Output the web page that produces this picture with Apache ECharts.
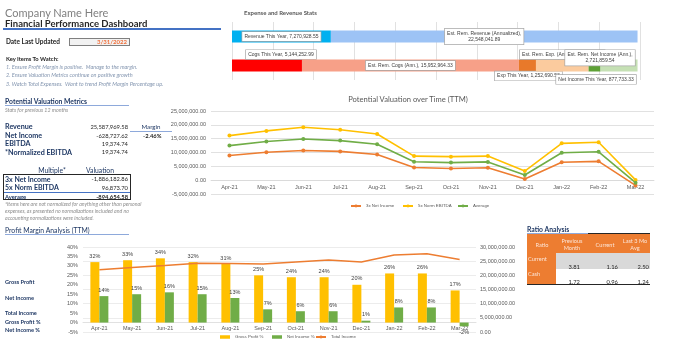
<!DOCTYPE html>
<html>
<head>
<meta charset="utf-8">
<script src="https://cdn.jsdelivr.net/npm/echarts@6/dist/echarts.min.js"></script>
<style>
  html, body { margin: 0; padding: 0; background: #fff; }
  #page { position: relative; width: 680px; height: 346px; overflow: hidden; font-family: "Lato", "Open Sans", sans-serif; }
  #chart { position: absolute; left: 0; top: 0; width: 680px; height: 346px; }
  .t { position: absolute; white-space: pre; line-height: 1; }
  .ln { position: absolute; }
</style>
</head>
<body>
<div id="page">
  <div id="chart"></div>
  <div id="overlay"></div>
</div>
<script>
// ---------- data ----------
const months = ['Apr-21', 'May-21', 'Jun-21', 'Jul-21', 'Aug-21', 'Sep-21', 'Oct-21', 'Nov-21', 'Dec-21', 'Jan-22', 'Feb-22', 'Mar-22'];

// Potential valuation over time (TTM)
const netIncome3x   = [8900000, 10100000, 10700000, 10400000, 9300000, 4600000, 4200000, 4500000, 400000, 6500000, 6800000, -1886182.86];
const normEbitda5x  = [16100000, 17800000, 19100000, 18200000, 16700000, 8700000, 8500000, 8700000, 3300000, 13300000, 13700000, 96873.70];
const valuationAvg  = [12500000, 13950000, 14900000, 14300000, 13000000, 6650000, 6350000, 6600000, 1850000, 9900000, 10250000, -894654.58];

// Profit margin analysis (TTM)
const grossProfitPct = [32, 33, 34, 32, 31, 25, 24, 24, 20, 26, 26, 17];
const netIncomePct   = [14, 15, 16, 15, 13, 7, 6, 6, 1, 8, 8, -2];
const totalIncome    = [22000000, 22800000, 23500000, 24300000, 24200000, 24000000, 24700000, 25400000, 24700000, 27200000, 27600000, 25587969.58];

// Expense and revenue stats
const expRows   = ['Revenue', 'Spend'];
const expNames  = ['Revenue This Year', 'Est. Rem. Revenue (Annualized)', 'Cogs This Year', 'Est. Rem. Cogs (Ann.)',
                   'Exp This Year', 'Est. Rem. Exp. (Ann.)', 'Net Income This Year', 'Est. Rem. Net Income (Ann.)'];
const expValues = [7270928.55, 22548041.89, 5144252.99, 15952964.33, 1252690.53, 3869469.72, 877733.33, 2721859.54];
const expRowOf  = [0, 0, 1, 1, 1, 1, 1, 1];

// Valuation metrics panel
const metricLabels = ['Revenue', 'Net Income', 'EBITDA', '*Normalized EBITDA'];
const metricValues = ['25,587,969.58', '-628,727.62', '19,374.74', '19,374.74'];
const multipleLabels = ['3x Net Income', '5x Norm EBITDA', 'Average'];
const multipleValues = ['-1,886,182.86', '96,873.70', '-894,654.58'];

// Ratio analysis
const ratioHeaders = ['Ratio', 'Previous\nMonth', 'Current', 'Last 3 Mo\nAvg'];
const ratioRows    = ['Current', 'Cash'];
const ratioPrev    = ['3.81', '1.72'];
const ratioCurr    = ['1.16', '0.96'];
const ratio3Mo     = ['2.50', '1.24'];

// ---------- helpers ----------
const fmt2 = v => Number(v).toLocaleString('en-US', { minimumFractionDigits: 2, maximumFractionDigits: 2 });
const overlay = document.getElementById('overlay');
const NAVY = '#1F3864';

function text(str, x, y, size, style = {}, align = 'left') {
  const d = document.createElement('div');
  d.className = 't';
  d.textContent = str;
  d.style.fontSize = size + 'px';
  d.style.top = (y - size / 2) + 'px';
  if (align === 'right') d.style.right = (680 - x) + 'px';
  else if (align === 'center') { d.style.left = x + 'px'; d.style.transform = 'translateX(-50%)'; d.style.textAlign = 'center'; }
  else d.style.left = x + 'px';
  Object.assign(d.style, style);
  overlay.appendChild(d);
  return d;
}
function box(x, y, w, h, style) {
  const d = document.createElement('div');
  d.className = 'ln';
  Object.assign(d.style, { left: x + 'px', top: y + 'px', width: w + 'px', height: h + 'px' }, style);
  overlay.appendChild(d);
  return d;
}

// ---------- header ----------
text('Company Name Here', 5, 12, 11, { color: '#808080' });
text('Financial Performance Dashboard', 5, 23.5, 9.5, { color: '#262626', fontWeight: 'bold' });
box(3, 28, 218, 1.5, { background: '#4472C4' });

text('Date Last Updated', 6, 42, 6.5, { color: '#262626', fontWeight: 'bold' });
box(69, 37.5, 61, 8.5, { background: '#F2F2F2', border: '1px solid #7F7F7F', boxSizing: 'border-box' });
text('3/31/2022', 127, 42, 6, { color: '#F0703C', fontWeight: 'bold' }, 'right');

text('Key Items To Watch:', 6, 58.5, 5.8, { color: '#262626', fontWeight: 'bold' });
const keyItems = ['1. Ensure Profit Margin is positive.  Manage to the margin.',
                  '2. Ensure Valuation Metrics continue on positive growth',
                  '3. Watch Total Expenses.  Want to trend Profit Margin Percentage up.'];
keyItems.forEach((s, i) => text(s, 6, 67.5 + i * 8.7, 5.5, { color: '#8496B0', fontStyle: 'italic' }));

// ---------- valuation metrics ----------
text('Potential Valuation Metrics', 5, 101, 6.8, { color: NAVY, fontWeight: 'bold' });
box(5, 105, 124, 1, { background: '#8EA9DB' });
text('Stats for previous 12 months', 5, 110.5, 5.3, { color: '#8C8C8C', fontStyle: 'italic' });

const metricY = [127, 135.7, 144, 152.3];
metricLabels.forEach((s, i) => {
  text(s, 5, metricY[i], 7.2, { color: NAVY, fontWeight: 'bold' });
  text(metricValues[i], 128, metricY[i], 5.8, { color: '#262626' }, 'right');
});
text('Margin', 151, 127, 6.2, { color: NAVY }, 'center');
box(130, 131, 42, 1, { background: '#8EA9DB' });
text('-2.46%', 143, 136, 5.8, { color: '#262626', fontWeight: 'bold' });

text('Multiple*', 52, 170, 6.8, { color: NAVY }, 'center');
text('Valuation', 100, 170, 6.8, { color: NAVY }, 'center');
box(3, 174, 128, 25.5, { border: '1.2px solid #262626', boxSizing: 'border-box' });
box(4, 192, 126, 1, { background: '#4472C4' });
const multY = [179, 187.7, 196.5];
multipleLabels.forEach((s, i) => {
  const last = i === multipleLabels.length - 1;
  text(s, 5, multY[i], last ? 5.8 : 7, { color: NAVY, fontWeight: 'bold' });
  text(multipleValues[i], 128, multY[i], 5.8, { color: '#262626', fontWeight: last ? 'bold' : 'normal' }, 'right');
});
const notes = ['*Items here are not normalized for anything other than personal',
               'expenses, as presented no normalizations included and no',
               'accounting normalizations were included.'];
notes.forEach((s, i) => text(s, 5, 204.5 + i * 6.8, 5.2, { color: '#8C8C8C', fontStyle: 'italic' }));

// ---------- profit margin side labels ----------
text('Profit Margin Analysis (TTM)', 5, 230, 6.8, { color: NAVY });
box(5, 234, 124, 1, { background: '#8EA9DB' });
const sideLabels = ['Gross Profit', 'Net Income', 'Total Income', 'Gross Profit %', 'Net Income %'];
const sideY = [282, 298, 313, 322, 330];
sideLabels.forEach((s, i) => text(s, 5, sideY[i], 5.6, { color: NAVY, fontWeight: 'bold' }));

// ---------- chart titles ----------
text('Expense and Revenue Stats', 244, 13, 6, { color: '#595959', fontWeight: 'bold' });
text('Potential Valuation over Time (TTM)', 408, 100, 7.6, { color: '#595959' }, 'center');

// ---------- ratio analysis ----------
text('Ratio Analysis', 527, 229, 6.8, { color: NAVY, fontWeight: 'bold' });
box(527, 233, 61, 1, { background: '#8EA9DB' });
box(588, 233, 62, 1.5, { background: '#262626' });
box(527, 234, 123, 19, { background: '#ED7D31' });
const hdrX = [542, 572, 605, 635];
ratioHeaders.forEach((s, i) => {
  const d = text(s, hdrX[i], 243.5, 5.6, { color: '#FCE4D6', lineHeight: '7px' }, 'center');
  d.style.top = (s.includes('\n') ? 236.5 : 240.5) + 'px';
});
box(527, 253, 29, 31, { background: '#ED7D31' });
box(556, 253, 94, 16, { background: '#D9D9D9' });
box(527, 284, 123, 1.2, { background: '#262626' });
ratioRows.forEach((s, i) => {
  const yl = 262 + i * 15, yv = 267 + i * 14.5;
  text(s, 528, yl - 3, 5.6, { color: '#FCE4D6' });
  text(ratioPrev[i], 580, yv, 5.8, { color: '#262626' }, 'right');
  text(ratioCurr[i], 618, yv, 5.8, { color: '#262626' }, 'right');
  text(ratio3Mo[i], 649, yv, 5.8, { color: '#262626' }, 'right');
});

// ---------- charts ----------
const chart = echarts.init(document.getElementById('chart'), null, { renderer: 'canvas' });

const expColors = ['#00B0F0', '#9DC3F5', '#FF0000', '#F7A088', '#E8792A', '#FBCB9E', '#5EA136', '#C5E0B4'];
const expLabelPos = [
  { position: 'inside' },
  { position: 'inside', wrap: true },
  { position: 'top', distance: 0.5, offset: [14, 0] },
  { position: 'inside' },
  { position: 'bottom', distance: 0, offset: [1, 0] },
  { position: 'top', distance: 0.5, offset: [0, 0] },
  { position: 'bottom', distance: 3.5, offset: [1.5, 0] },
  { position: 'top', distance: 0.5, offset: [-19, 6.5], wrap: true }
];

const expSeries = expNames.map((name, i) => ({
  type: 'bar',
  name,
  stack: 'exp',
  xAxisIndex: 0,
  yAxisIndex: 0,
  barWidth: 12,
  itemStyle: { color: expColors[i] },
  data: expRows.map((_, r) => (r === expRowOf[i] ? expValues[i] : '-')),
  label: {
    show: true,
    position: expLabelPos[i].position,
    distance: expLabelPos[i].distance,
    offset: expLabelPos[i].offset,
    formatter: p => name + ',' + (expLabelPos[i].wrap ? '\n' : ' ') + fmt2(p.value),
    fontSize: 5,
    lineHeight: 6.5,
    color: '#404040',
    align: 'center',
    backgroundColor: '#fff',
    borderColor: '#A6A6A6',
    borderWidth: 0.7,
    padding: [1.2, 2.2]
  },
  z: 2 + i
}));

const axisText = { fontSize: 5.5, color: '#595959', fontFamily: 'Liberation Sans' };

// the category axes sit on the zero line of their value axis
const valZeroShift = -83 * 5 / 30;   // 0 sits 5M above the -5M floor of a 30M span
const pmZeroShift = -85 * 5 / 45;    // 0% sits 5 points above the -5% floor of a 45 point span

const option = {
  animation: false,
  textStyle: { fontFamily: 'Liberation Sans' },
  grid: [
    { left: 232, top: 22, width: 408, height: 58 },
    { left: 211, top: 111, width: 443, height: 83 },
    { left: 83, top: 247, width: 393, height: 85 }
  ],
  xAxis: [
    { type: 'value', gridIndex: 0, min: 0, max: 30000000, interval: 3000000,
      axisLabel: { show: false }, axisLine: { show: false }, axisTick: { show: false },
      splitLine: { lineStyle: { color: '#D9D9D9', width: 0.8 } } },
    { type: 'category', gridIndex: 1, data: months, boundaryGap: true, offset: valZeroShift,
      axisLine: { onZero: false, lineStyle: { color: '#D9D9D9', width: 0.8 } }, axisTick: { show: false },
      axisLabel: Object.assign({ margin: 4, interval: 0 }, axisText) },
    { type: 'category', gridIndex: 2, data: months, boundaryGap: true, offset: pmZeroShift,
      axisLine: { onZero: false, lineStyle: { color: '#D9D9D9', width: 0.8 } }, axisTick: { show: false },
      axisLabel: Object.assign({ margin: 3, interval: 0 }, axisText) }
  ],
  yAxis: [
    { type: 'category', gridIndex: 0, data: expRows, inverse: true, show: false },
    { type: 'value', gridIndex: 1, min: -5000000, max: 25000000, interval: 5000000,
      axisLabel: Object.assign({ margin: 5, formatter: v => fmt2(v) }, axisText),
      axisLine: { show: false }, axisTick: { show: false },
      splitLine: { lineStyle: { color: '#D9D9D9', width: 0.8 } } },
    { type: 'value', gridIndex: 2, min: -5, max: 40, interval: 5,
      axisLabel: Object.assign({ margin: 5, formatter: '{value}%' }, axisText),
      axisLine: { show: false }, axisTick: { show: false }, splitLine: { show: false } },
    { type: 'value', gridIndex: 2, position: 'right', min: 0, max: 30000000, interval: 5000000,
      axisLabel: Object.assign({ margin: 4, formatter: v => fmt2(v) }, axisText),
      axisLine: { show: false }, axisTick: { show: false },
      splitLine: { lineStyle: { color: '#E4E4E4', width: 0.7 } } }
  ],
  legend: [
    { data: ['3x Net Income'], left: 350, top: 204 },
    { data: ['5x Norm EBITDA'], left: 402, top: 204 },
    { data: ['Average'], left: 457, top: 204 },
    { data: [{ name: 'Gross Profit %', icon: 'rect' }], left: 220, top: 335 },
    { data: [{ name: 'Net Income %', icon: 'rect' }], left: 272, top: 335 },
    { data: ['Total Income'], left: 315, top: 335 }
  ].map(l => Object.assign({
    itemWidth: 10, itemHeight: 3.5, itemGap: 4, padding: 0,
    textStyle: { fontSize: 4.4, color: '#595959' }
  }, l)),
  series: [
    ...expSeries,
    { type: 'line', name: '3x Net Income', xAxisIndex: 1, yAxisIndex: 1, data: netIncome3x,
      color: '#ED7D31', symbol: 'circle', symbolSize: 4, lineStyle: { width: 1.6 } },
    { type: 'line', name: '5x Norm EBITDA', xAxisIndex: 1, yAxisIndex: 1, data: normEbitda5x,
      color: '#FFC000', symbol: 'circle', symbolSize: 4, lineStyle: { width: 1.6 } },
    { type: 'line', name: 'Average', xAxisIndex: 1, yAxisIndex: 1, data: valuationAvg,
      color: '#70AD47', symbol: 'circle', symbolSize: 4, lineStyle: { width: 1.6 } },
    { type: 'bar', name: 'Gross Profit %', xAxisIndex: 2, yAxisIndex: 2, data: grossProfitPct,
      color: '#FFC000', barWidth: 9, barGap: '0%',
      label: { show: true, position: 'top', distance: 3, formatter: '{c}%', fontSize: 5.5, color: '#404040' } },
    { type: 'bar', name: 'Net Income %', xAxisIndex: 2, yAxisIndex: 2,
      data: netIncomePct.map(v => (v < 0 ? { value: v, label: { position: 'bottom' } } : v)),
      color: '#70AD47', barWidth: 9, barGap: '0%',
      label: { show: true, position: 'top', distance: 3, formatter: '{c}%', fontSize: 5.5, color: '#404040' } },
    { type: 'line', name: 'Total Income', xAxisIndex: 2, yAxisIndex: 3, data: totalIncome,
      color: '#ED7D31', symbol: 'none', lineStyle: { width: 1.5 }, z: 5 }
  ]
};
chart.setOption(option);
</script>
</body>
</html>
